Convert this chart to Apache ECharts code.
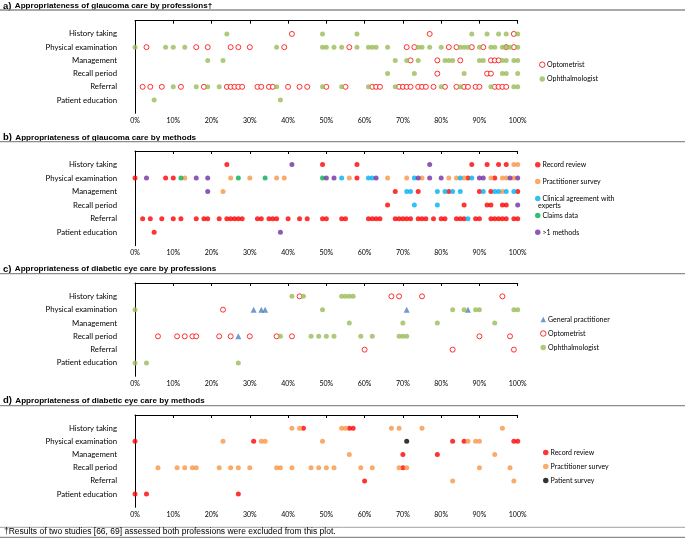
<!DOCTYPE html>
<html>
<head>
<meta charset="utf-8">
<script src="https://cdn.jsdelivr.net/npm/echarts@6/dist/echarts.min.js"></script>
<style>
html,body{margin:0;padding:0;background:#fff;}
#chart{width:685px;height:538px;}
</style>
</head>
<body>
<div id="chart"></div>
<script>
// row order (top to bottom)
var categories=['History taking','Physical examination','Management','Recall period','Referral','Patient education'];
var tickLabels=['0%','10%','20%','30%','40%','50%','60%','70%','80%','90%','100%'];

// each array: one list of percentages per category row
// a) glaucoma care by professions
var aOptometrist=[
    [41,77,99],
    [3,16,19,25,27,30,39,56,71,73,82,84,88,91,97,99],
    [72,79,85,93,94,95],
    [79,92,93],
    [2,4,7,12,18,24,25,26,27,28,32,33,35,36,40,43,45,50,55,62,63,64,69,70,71,72,74,75,76,78,81,84,86,87,89,90,94,95,96,97],
    []
];
var aOphthalmologist=[
    [24,49,58,88,92,95,97,100],
    [0,8,10,13,37,49,50,52,54,58,61,62,63,66,74,75,77,80,85,86,87,90,93,94,96,97,98,100],
    [19,23,68,71,74,81,82,83,90,91,96,97,99,100],
    [66,73,86,96,97,100],
    [10,16,19,22,37,49,54,61,68,80,85,93,99,100],
    [5,38]
];

// b) glaucoma care by methods
var bRecordReview=[
    [24,49,58,88,92,95,97],
    [0,8,10,58,87,94],
    [68,74,82,90,93,100],
    [66,86,92,93,96,97],
    [2,4,7,10,12,16,18,19,22,24,25,26,27,28,32,33,35,36,37,40,43,45,49,50,54,55,61,62,63,64,68,69,70,71,72,74,75,76,78,80,81,84,85,86,89,90,93,94,95,96,97,99,100],
    [5]
];
var bPractitionerSurvey=[
    [99,100],
    [13,25,30,37,39,56,66,71,75,82,84,86,93,96,97,99],
    [23,96],
    [],
    [],
    []
];
var bClinicalAgreement=[
    [],
    [54,61,62,73,85,88],
    [71,72,79,81,83,85,91,94,95,97,99],
    [73,79],
    [87],
    []
];
var bClaimsData=[
    [],
    [12,27,34,49],
    [],
    [],
    [],
    []
];
var bMultiMethods=[
    [41,77],
    [3,16,19,50,52,63,74,77,80,90,91,98,100],
    [19],
    [100],
    [],
    [38]
];

// c) diabetic eye care by professions
var cGeneralPractitioner=[
    [],
    [31,33,34,71,87],
    [],
    [27],
    [],
    []
];
var cOptometrist=[
    [43,67,69,75,96],
    [23],
    [],
    [6,11,13,15,16,22,25,30,37,41,90,98],
    [60,83,99],
    []
];
var cOphthalmologist=[
    [41,44,54,55,56,57],
    [0,49,83,86,89,90,99,100],
    [56,70,79,94],
    [38,46,48,50,52,59,62,69,70,71],
    [],
    [0,3,27]
];

// d) diabetic eye care by methods
var dRecordReview=[
    [44,56,57],
    [0,31,83,86,99,100],
    [70,79],
    [70],
    [60],
    [0,3,27]
];
var dPractitionerSurvey=[
    [41,43,54,55,67,69,75,96],
    [23,33,34,49,87,89,90],
    [56,94],
    [6,11,13,15,16,22,25,27,30,37,38,41,46,48,50,52,59,62,69,71,90,98],
    [83,99],
    []
];
var dPatientSurvey=[
    [],
    [71],
    [],
    [],
    [],
    []
];

var titles=[
    ['a)','Appropriateness of glaucoma care by professions\u2020'],
    ['b)','Appropriateness of glaucoma care by methods'],
    ['c)','Appropriateness of diabetic eye care by professions'],
    ['d)','Appropriateness of diabetic eye care by methods']
];
var footnote='\u2020Results of two studies [66, 69] assessed both professions were excluded from this plot.';

var RED='#FF0000',OLIVE='#9BBB59',ORANGE='#F79646',CYAN='#00B0F0',GREEN='#00B050',PURPLE='#7030A0',STEEL='#4F81BD';

function rows(arr){
    var out=[];
    for(var i=0;i<arr.length;i++){
        for(var j=0;j<arr[i].length;j++)out.push([arr[i][j],i+1]);
    }
    return out;
}
function filled(name,arr,color,idx,symbol){
    return {type:'scatter',name:name,xAxisIndex:idx,yAxisIndex:idx,data:rows(arr),
        symbol:symbol||'circle',symbolSize:symbol==='triangle'?6:5,
        itemStyle:{color:color},emphasis:{disabled:true},silent:true};
}
function hollow(name,arr,color,idx){
    return {type:'scatter',name:name,xAxisIndex:idx,yAxisIndex:idx,data:rows(arr),
        symbol:'circle',symbolSize:5,
        itemStyle:{color:'#fff',borderColor:color,borderWidth:1},emphasis:{disabled:true},silent:true};
}

var gridTops=[20.7,151,283,415];
var gridHeights=[92.6,94.7,93.3,92.3];
var titleY=[6,137.3,269,400.3];
var ruleY=[10,141.7,273.7,405.7];

var grids=[],xAxes=[],yAxes=[],graphics=[];
for(var k=0;k<4;k++){
    grids.push({left:135,width:382.7,top:gridTops[k],height:gridHeights[k]});
    xAxes.push({type:'value',gridIndex:k,min:0,max:100,interval:10,
        axisLine:{show:true,lineStyle:{color:'#000',width:1}},
        axisTick:{show:true,length:3,lineStyle:{color:'#000'}},
        splitLine:{show:false},
        axisLabel:{fontFamily:'Lato',fontSize:7,color:'#000',margin:4,
            formatter:function(v){return tickLabels[Math.round(v/10)];}}});
    yAxes.push({type:'value',gridIndex:k,min:0,max:7,interval:1,inverse:true,
        axisLine:{show:true,onZero:false,lineStyle:{color:'#000',width:1}},
        axisTick:{show:false},splitLine:{show:false},
        axisLabel:{fontFamily:'Lato',fontSize:7.8,color:'#000',margin:18,
            formatter:function(v){return categories[v-1]||'';}}});
    graphics.push({type:'text',left:3,top:titleY[k]-6,
        style:{text:'{l|'+titles[k][0]+'} {t|'+titles[k][1]+'}',
            rich:{l:{fontFamily:'Liberation Sans',fontWeight:'bold',fontSize:9.5,fill:'#000'},
                  t:{fontFamily:'Liberation Sans',fontWeight:'bold',fontSize:8.1,fill:'#000'}}}});
    graphics.push({type:'line',shape:{x1:0,y1:ruleY[k],x2:685,y2:ruleY[k]},
        style:{stroke:'#8c8c8c',lineWidth:1.3}});
}
graphics.push({type:'line',shape:{x1:0,y1:527.3,x2:685,y2:527.3},style:{stroke:'#a0a0a0',lineWidth:1}});
graphics.push({type:'line',shape:{x1:0,y1:537.5,x2:685,y2:537.5},style:{stroke:'#8c8c8c',lineWidth:1.3}});
graphics.push({type:'text',left:4,top:527.6,
    style:{text:footnote,fontFamily:'Liberation Sans',fontSize:8.5,fill:'#000'}});
graphics.push({type:'text',left:538,top:202.3,
    style:{text:'experts',fontFamily:'Lato',fontSize:7,fill:'#000'}});

function legend(names,left,top,gap){
    var data=names.map(function(n){
        return n==='Optometrist'?{name:n,itemStyle:{borderWidth:1}}:n;
    });
    return {orient:'vertical',left:left,top:top,itemGap:gap,itemWidth:5.5,itemHeight:5.5,
        selectedMode:false,data:data,
        textStyle:{fontFamily:'Lato',fontSize:7,color:'#000',lineHeight:9,padding:[0,0,0,-3]}};
}

var series=[
    hollow('Optometrist',aOptometrist,RED,0),
    filled('Ophthalmologist',aOphthalmologist,OLIVE,0),
    filled('Record review',bRecordReview,RED,1),
    filled('Practitioner survey',bPractitionerSurvey,ORANGE,1),
    filled('Clinical agreement with',bClinicalAgreement,CYAN,1),
    filled('Claims data',bClaimsData,GREEN,1),
    filled('>1 methods',bMultiMethods,PURPLE,1),
    filled('General practitioner',cGeneralPractitioner,STEEL,2,'triangle'),
    hollow('Optometrist',cOptometrist,RED,2),
    filled('Ophthalmologist',cOphthalmologist,OLIVE,2),
    filled('Record review',dRecordReview,RED,3),
    filled('Practitioner survey',dPractitionerSurvey,ORANGE,3),
    filled('Patient survey',dPatientSurvey,'#000',3)
];

var chart=echarts.init(document.getElementById('chart'),null,{renderer:'canvas'});
chart.setOption({
    animation:false,
    grid:grids,xAxis:xAxes,yAxis:yAxes,
    legend:[
        legend(['Optometrist','Ophthalmologist'],534,55.2,5.4),
        legend(['Record review','Practitioner survey','Clinical agreement with','Claims data','>1 methods'],530,155.2,7.9),
        legend(['General practitioner','Optometrist','Ophthalmologist'],535,310,5),
        legend(['Record review','Practitioner survey','Patient survey'],538,443.1,5)
    ],
    series:series,
    graphic:graphics
});
</script>
</body>
</html>
